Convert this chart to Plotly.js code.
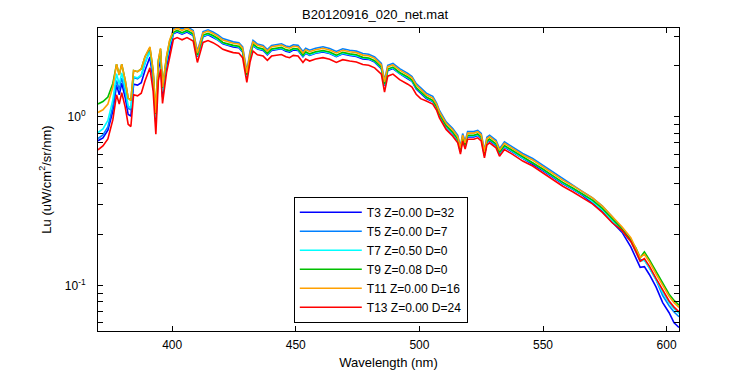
<!DOCTYPE html>
<html>
<head>
<meta charset="utf-8">
<script src="https://cdn.plot.ly/plotly-3.0.1.min.js"></script>
<style>html,body{margin:0;padding:0;background:#fff;}#chart{width:750px;height:375px;}</style>
</head>
<body>
<div id="chart"></div>
<script>
const chartTitle = "B20120916_020_net.mat";
const xTitle = "Wavelength (nm)";
const yTitle = "Lu (uW/cm<sup>2</sup>/sr/nm)";
const seriesNames = ["T3 Z=0.00 D=32", "T5 Z=0.00 D=7", "T7 Z=0.50 D=0", "T9 Z=0.08 D=0", "T11 Z=0.00 D=16", "T13 Z=0.00 D=24"];
const xTickVals = [400, 450, 500, 550, 600];
const yTickVals = [0.1, 1];
const yTickText = ["10<sup>-1</sup>", "10<sup>0</sup>"];
const yMinorTickVals = [0.06, 0.07, 0.08, 0.09, 0.2, 0.3, 0.4, 0.5, 0.6, 0.7, 0.8, 0.9, 2, 3];

const wavelength = [370,372,374,376,377.5,378.6,379.6,381,382.2,383.3,384.4,386,387.5,389,391,392.3,393.4,394.4,395.3,396.1,397.7,399,400.5,402,404,406,408.5,410.2,412.5,414.5,416.5,418.5,420.5,422.7,424.7,427,428.5,430.2,431.5,432.7,434.5,436.8,438.5,440.2,442,444.2,446,447.5,449,450.9,452.9,454,455.6,458,461,463.7,466.4,469,471.8,474.5,477.1,479.5,481.9,484.6,485.9,487.2,489.3,492,495.3,497,498.7,500.5,502.8,505.4,507,508.1,510.8,513.5,515.5,516.6,517.5,518.5,519.5,522,523.6,525,526.3,527.3,528.4,531,532.4,534.4,537.7,541.8,545.8,549.9,553.9,558,562,566,570,574,578,582,585.5,587.6,589.3,591,593,595.7,598.4,601,603,605];

const t3 = [0.721,0.748,0.833,1.08,1.54,1.35,1.58,1.30,1.03,1.01,1.56,1.54,1.59,1.88,2.26,1.64,0.914,1.89,2.22,1.305,1.97,2.48,3.11,3.18,3.09,3.18,3.03,2.27,2.98,3.06,2.96,2.85,2.71,2.64,2.59,2.57,2.42,1.73,2.28,2.64,2.52,2.47,2.33,2.47,2.49,2.53,2.45,2.42,2.49,2.47,2.27,2.38,2.31,2.38,2.42,2.37,2.27,2.36,2.31,2.28,2.20,2.19,2.11,1.93,1.53,1.88,1.93,1.80,1.68,1.62,1.46,1.38,1.28,1.23,1.12,1.02,0.868,0.792,0.723,0.619,0.740,0.665,0.76,0.76,0.774,0.741,0.589,0.703,0.723,0.675,0.602,0.660,0.618,0.563,0.526,0.480,0.438,0.400,0.371,0.342,0.307,0.274,0.237,0.206,0.169,0.146,0.128,0.129,0.116,0.098,0.079,0.0688,0.060,0.0562];

const t5 = [0.742,0.781,0.869,1.155,1.64,1.45,1.70,1.40,1.12,1.10,1.71,1.68,1.75,2.07,2.50,1.81,1.01,2.08,2.45,1.44,2.18,2.74,3.34,3.42,3.32,3.42,3.25,2.44,3.20,3.28,3.18,3.06,2.91,2.84,2.78,2.75,2.60,1.86,2.45,2.84,2.70,2.65,2.50,2.65,2.67,2.71,2.63,2.60,2.67,2.65,2.44,2.55,2.48,2.55,2.60,2.54,2.44,2.53,2.48,2.45,2.37,2.35,2.26,2.07,1.64,2.02,2.07,1.93,1.81,1.73,1.57,1.48,1.38,1.32,1.20,1.09,0.932,0.851,0.776,0.665,0.795,0.714,0.816,0.816,0.831,0.796,0.632,0.755,0.776,0.725,0.647,0.709,0.663,0.605,0.565,0.515,0.470,0.429,0.390,0.360,0.330,0.295,0.255,0.215,0.186,0.161,0.142,0.141,0.127,0.108,0.087,0.0757,0.0695,0.0651];

const t7 = [0.806,0.847,0.952,1.26,1.80,1.56,1.82,1.49,1.16,1.125,1.73,1.70,1.77,2.09,2.44,1.78,0.987,2.04,2.40,1.41,2.13,2.68,3.14,3.22,3.12,3.22,3.06,2.29,3.01,3.09,3.00,2.88,2.74,2.67,2.62,2.59,2.45,1.75,2.30,2.67,2.54,2.50,2.35,2.50,2.52,2.55,2.48,2.45,2.52,2.50,2.29,2.40,2.33,2.40,2.45,2.39,2.29,2.38,2.33,2.30,2.23,2.21,2.13,1.95,1.55,1.90,1.95,1.81,1.70,1.63,1.48,1.39,1.30,1.24,1.13,1.03,0.877,0.801,0.731,0.626,0.748,0.672,0.768,0.768,0.782,0.749,0.595,0.710,0.731,0.683,0.609,0.667,0.624,0.569,0.532,0.485,0.443,0.404,0.374,0.346,0.314,0.280,0.242,0.211,0.182,0.158,0.139,0.141,0.127,0.108,0.091,0.0791,0.0727,0.0681];

const t9 = [1.19,1.23,1.31,1.575,2.05,1.77,2.05,1.65,1.29,1.25,1.88,1.85,1.92,2.27,2.57,1.87,1.04,2.15,2.52,1.485,2.25,2.82,3.17,3.25,3.15,3.25,3.09,2.32,3.05,3.12,3.03,2.91,2.76,2.70,2.65,2.62,2.47,1.77,2.33,2.70,2.57,2.52,2.38,2.52,2.54,2.58,2.50,2.47,2.54,2.52,2.32,2.43,2.36,2.43,2.47,2.42,2.32,2.41,2.36,2.33,2.25,2.23,2.15,1.97,1.56,1.92,1.97,1.83,1.72,1.65,1.49,1.41,1.31,1.25,1.145,1.04,0.887,0.809,0.738,0.632,0.756,0.679,0.776,0.776,0.791,0.757,0.601,0.718,0.738,0.690,0.615,0.674,0.631,0.575,0.537,0.490,0.447,0.408,0.378,0.349,0.320,0.286,0.247,0.215,0.186,0.166,0.146,0.158,0.142,0.121,0.102,0.0886,0.0814,0.0762];

const t11 = [1.06,1.10,1.19,1.50,2.05,1.77,2.05,1.65,1.29,1.25,1.88,1.85,1.92,2.27,2.60,1.89,1.05,2.17,2.55,1.50,2.27,2.85,3.27,3.35,3.25,3.35,3.19,2.39,3.14,3.22,3.12,3.00,2.85,2.78,2.73,2.70,2.55,1.82,2.40,2.78,2.65,2.60,2.45,2.60,2.62,2.66,2.58,2.55,2.62,2.60,2.39,2.50,2.43,2.50,2.55,2.49,2.39,2.48,2.43,2.40,2.32,2.30,2.22,2.03,1.61,1.98,2.03,1.89,1.77,1.70,1.54,1.45,1.35,1.29,1.18,1.07,0.914,0.834,0.761,0.652,0.779,0.70,0.80,0.80,0.815,0.78,0.62,0.74,0.761,0.711,0.634,0.695,0.65,0.593,0.554,0.505,0.461,0.421,0.390,0.360,0.330,0.295,0.255,0.222,0.192,0.166,0.146,0.153,0.138,0.117,0.099,0.086,0.079,0.074];

const t13 = [0.636,0.671,0.738,0.96,1.35,1.19,1.39,1.14,0.903,0.875,1.35,1.33,1.38,1.63,1.95,1.42,0.788,1.63,1.91,1.20,1.82,2.28,2.88,2.95,2.86,2.95,2.81,2.10,2.76,2.83,2.75,2.64,2.51,2.45,2.40,2.38,2.24,1.60,2.11,2.45,2.33,2.29,2.16,2.29,2.31,2.34,2.27,2.24,2.31,2.29,2.10,2.20,2.14,2.20,2.24,2.19,2.10,2.18,2.14,2.11,2.04,2.02,1.95,1.79,1.40,1.74,1.79,1.66,1.56,1.50,1.36,1.28,1.24,1.19,1.09,0.984,0.841,0.767,0.700,0.60,0.717,0.644,0.736,0.736,0.750,0.718,0.570,0.681,0.700,0.654,0.583,0.639,0.598,0.546,0.510,0.465,0.424,0.387,0.359,0.331,0.304,0.271,0.235,0.211,0.182,0.158,0.139,0.144,0.130,0.110,0.093,0.0808,0.0743,0.0696];

const seriesValues = [t3, t5, t7, t9, t11, t13];
const seriesColors = ["#0000ff", "#0080ff", "#00ffff", "#00bf00", "#ffa000", "#ff0000"];

const fontFamily = "Liberation Sans, Arial, Helvetica, sans-serif";

const traces = seriesValues.map((vals, i) => ({
  type: "scatter",
  mode: "lines",
  x: wavelength,
  y: vals,
  name: seriesNames[i],
  line: {color: seriesColors[i], width: 1.6},
  hoverinfo: "skip"
}));

const layout = {
  width: 750,
  height: 375,
  margin: {l: 98, r: 71, t: 28, b: 44, pad: 0},
  paper_bgcolor: "#ffffff",
  plot_bgcolor: "#ffffff",
  font: {family: fontFamily, size: 12, color: "#000"},
  title: {text: chartTitle, font: {size: 13, color: "#000"}, x: 0.5, xanchor: "center", y: 0.962, yanchor: "middle"},
  showlegend: true,
  legend: {
    x: 0.337, y: 0.443, xanchor: "left", yanchor: "top",
    bgcolor: "#ffffff", bordercolor: "#000", borderwidth: 1,
    font: {size: 12, color: "#000"},
    itemwidth: 62,
    tracegroupgap: 0
  },
  xaxis: {
    range: [370, 605],
    tickvals: xTickVals,
    ticktext: xTickVals.map(String),
    ticks: "inside", ticklen: 5, tickwidth: 1, tickcolor: "#000",
    showline: true, linecolor: "#000", linewidth: 1, mirror: "ticks",
    showgrid: false, zeroline: false,
    tickfont: {size: 12},
    ticklabelstandoff: 3,
    title: {text: xTitle, font: {size: 13}, standoff: 6},
    automargin: false
  },
  yaxis: {
    type: "log",
    range: [Math.log10(0.0536), Math.log10(3.36)],
    tickvals: yTickVals,
    ticktext: yTickText,
    ticks: "inside", ticklen: 5, tickwidth: 1, tickcolor: "#000",
    minor: {tickvals: yMinorTickVals, ticks: "inside", ticklen: 5, tickwidth: 1, tickcolor: "#000", showgrid: false},
    showline: true, linecolor: "#000", linewidth: 1, mirror: "ticks",
    showgrid: false, zeroline: false,
    tickfont: {size: 12},
    ticklabelstandoff: 9,
    title: {text: yTitle, font: {size: 13}, standoff: 10},
    automargin: false
  }
};

Plotly.newPlot("chart", traces, layout, {staticPlot: true, displayModeBar: false});
</script>
</body>
</html>
